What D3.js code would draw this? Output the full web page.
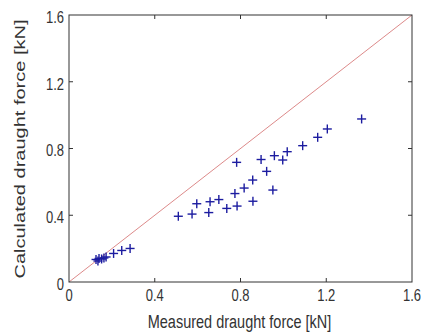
<!DOCTYPE html>
<html><head><meta charset="utf-8">
<script src="https://cdn.jsdelivr.net/npm/d3@7"></script>
<style>body{margin:0;background:#fff}svg{display:block}text{font-family:"Liberation Sans",Arial,sans-serif;fill:#333}</style>
</head><body>
<svg id="c" width="422" height="333"></svg>
<script>
const measured = [1.365,1.205,1.160,1.090,1.018,0.958,0.997,0.896,0.782,0.922,0.857,0.817,0.774,0.951,0.858,0.784,0.736,0.699,0.658,0.596,0.652,0.574,0.510,0.208,0.246,0.285,0.126,0.140,0.152,0.163,0.135,0.173];
const calculated = [0.977,0.917,0.867,0.817,0.781,0.757,0.731,0.734,0.717,0.663,0.611,0.563,0.530,0.551,0.484,0.455,0.441,0.494,0.481,0.469,0.416,0.407,0.394,0.171,0.189,0.201,0.135,0.141,0.138,0.144,0.126,0.150];
const ticks = [0,0.4,0.8,1.2,1.6];
const tickLabels = ["0","0.4","0.8","1.2","1.6"];
const lineX = [0,1.6];

const svg = d3.select("#c");
const L=69,R=412,T=15,B=282;
const x = d3.scaleLinear().domain([0,1.6]).range([L,R]);
const y = d3.scaleLinear().domain([0,1.6]).range([B,T]);
const SY=1.3;

// 1:1 line
svg.append("line").attr("x1",x(lineX[0])).attr("y1",y(lineX[0])).attr("x2",x(lineX[1])).attr("y2",y(lineX[1]))
  .attr("stroke","#dd8a8a").attr("stroke-width",1);

// markers
const s=4.5;
const g=svg.append("g").attr("stroke","#1c1ca0").attr("stroke-width",1.4);
measured.forEach((m,i)=>{
  const px=x(m), py=y(calculated[i]);
  g.append("line").attr("x1",px-s).attr("x2",px+s).attr("y1",py).attr("y2",py);
  g.append("line").attr("x1",px).attr("x2",px).attr("y1",py-s).attr("y2",py+s);
});

// box
svg.append("rect").attr("x",L).attr("y",T).attr("width",R-L).attr("height",B-T)
  .attr("fill","none").attr("stroke","#333").attr("stroke-width",1);

// ticks
const tk=svg.append("g").attr("stroke","#333").attr("stroke-width",1);
ticks.slice(1,-1).forEach(t=>{
  tk.append("line").attr("x1",x(t)).attr("x2",x(t)).attr("y1",B).attr("y2",B-4);
  tk.append("line").attr("x1",x(t)).attr("x2",x(t)).attr("y1",T).attr("y2",T+4);
  tk.append("line").attr("y1",y(t)).attr("y2",y(t)).attr("x1",L).attr("x2",L+4);
  tk.append("line").attr("y1",y(t)).attr("y2",y(t)).attr("x1",R).attr("x2",R-4);
});

ticks.forEach((t,i)=>{
  svg.append("text").attr("transform",`translate(${x(t)},${B+13}) scale(1,${SY})`)
    .attr("dy","0.35em").attr("text-anchor","middle").attr("font-size",13).text(tickLabels[i]);
  svg.append("text").attr("transform",`translate(${L-5},${y(t)+2}) scale(1,${SY})`)
    .attr("dy","0.35em").attr("text-anchor","end").attr("font-size",13).text(tickLabels[i]);
});

svg.append("text").attr("transform",`translate(${(L+R)/2-1},321) scale(1,${SY})`).attr("dy","0.35em")
  .attr("text-anchor","middle").attr("font-size",14.5).text("Measured draught force [kN]");
svg.append("text").attr("transform",`translate(25,149) rotate(-90) scale(1.38,1)`)
  .attr("text-anchor","middle").attr("font-size",14.5).text("Calculated draught force [kN]");
</script>
</body></html>
